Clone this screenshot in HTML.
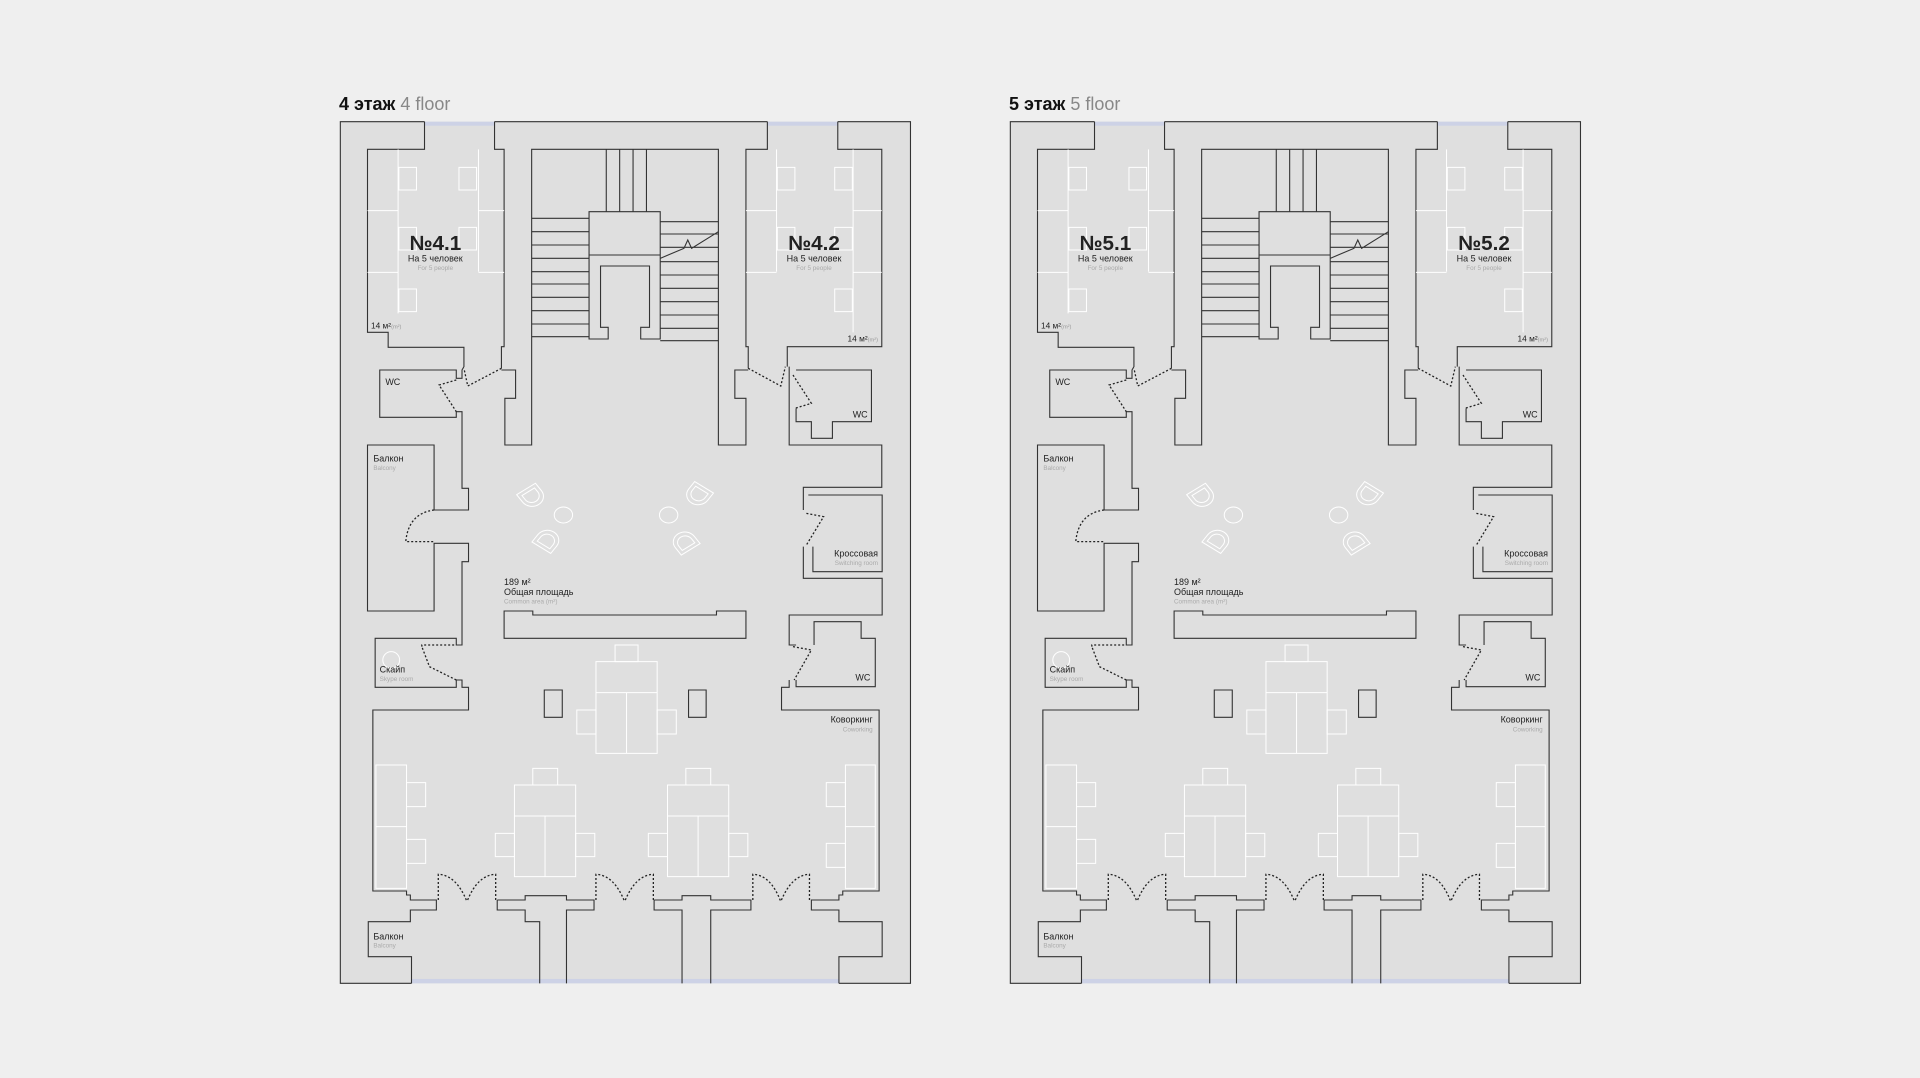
<!DOCTYPE html>
<html><head><meta charset="utf-8"><style>
html,body{margin:0;padding:0;background:#efefef;}
svg{display:block;}
.t{font-family:"Liberation Sans","DejaVu Sans",sans-serif;}
</style></head><body>
<svg width="1920" height="1078" viewBox="0 0 1920 1078" xmlns="http://www.w3.org/2000/svg">
<defs>
<g id="chair"><path d="M-30,-22 L30,-22 L30,5 A30,30 0 0 1 -30,5 Z M-20,-12 L20,-12 L20,3 A20,20 0 0 1 -20,3 Z" fill="none" stroke="#fff" stroke-width="1" vector-effect="non-scaling-stroke"/></g>
<g id="plan">
<g transform="translate(330,80) scale(0.38265,0.33333)">
<rect x="27" y="125" width="1490" height="2585" fill="#dfdfdf"/>
<rect x="247" y="125" width="183" height="12" fill="#cdd2e6"/>
<rect x="1143" y="125" width="184" height="12" fill="#cdd2e6"/>
<rect x="213" y="2697" width="1117" height="13" fill="#cdd2e6"/>
<g fill="none" stroke="#333" stroke-width="1.1">
<path vector-effect="non-scaling-stroke" d="M247,125 L27,125 L27,2710 L213,2710 M1330,2710 L1517,2710 L1517,125 L1327,125 M430,125 L1143,125"/>
<path vector-effect="non-scaling-stroke" d="M247,125 V208 H98 V757 H152 V802 H350 V860 L345,870 V895 H330 V870 H130 V1012 H330 V995 H345 V1225 H362 V1290 H272 V1095 H98 V1593 H272 V1390 H362 V1445 H345 V1695 H330 V1675 H118 V1822 H330 V1800 H345 V1822 H362 V1890 H112 V2433 H200 V2445 H210 V2460 H278 V2490 H210 V2525 H100 V2630 H213 V2710"/>
<path vector-effect="non-scaling-stroke" d="M430,125 V208 H455 V800 H448 V865 M448,870 H485 V955 H457 V1095 H527 V208 H1015 V1095 H1087 V955 H1058 V870 H1093 M1093,865 V800 H1087 V208 H1143 V125"/>
<path vector-effect="non-scaling-stroke" d="M1327,125 V208 H1442 V800 H1195 V860 M1200,860 V1095 H1442 V1222 H1237 V1290 M1237,1400 V1495 H1443 V1605 H1200 V1695 H1218 M1200,1800 V1822 H1180 V1890 H1435 V2433 H1340 V2445 H1330 V2460 H1258 V2490 H1330 V2525 H1443 V2630 H1330 V2710"/>
<path vector-effect="non-scaling-stroke" d="M1218,870 H1415 V1025 H1313 V1075 H1258 V1025 H1218 V985 M1250,1245 H1443 V1475 H1262 V1400"/>
<path vector-effect="non-scaling-stroke" d="M1265,1695 V1625 H1388 V1675 H1425 V1820 H1218 V1800"/>
<path vector-effect="non-scaling-stroke" d="M455,1593 H530 V1605 H1010 V1593 H1087 V1675 H455 Z"/>
<path vector-effect="non-scaling-stroke" d="M437,2460 H510 V2447 H618 V2460 H690 V2490 H618 V2710 M548,2710 V2525 H510 V2490 H437 V2460 M847,2460 H920 V2447 H995 V2460 H1100 V2490 H995 V2710 M920,2710 V2490 H847 V2460"/>
<path vector-effect="non-scaling-stroke" d="M722,208 V395 M757,208 V395 M792,208 V395 M827,208 V395 M677,395 H863 V525 H677 Z M677,525 V777 H727 V742 H707 V558 H835 V742 H812 V777 H863 V525"/>
<path vector-effect="non-scaling-stroke" d="M527,415 H677 M527,455 H677 M527,495 H677 M527,535 H677 M527,575 H677 M527,612 H677 M527,652 H677 M527,692 H677 M527,732 H677 M527,770 H677 M863,425 H1015 M863,462 H1015 M863,502 H1015 M863,545 H1015 M863,585 H1015 M863,625 H1015 M863,665 H1015 M863,705 H1015 M863,745 H1015 M863,782 H1015 M863,535 L925,505 L935,480 L945,505 L1015,455"/>
<rect vector-effect="non-scaling-stroke" x="560" y="1830" width="47" height="82"/>
<rect vector-effect="non-scaling-stroke" x="937" y="1830" width="46" height="82"/>
</g>
<g fill="none" stroke="#fff" stroke-width="1">
<path vector-effect="non-scaling-stroke" d="M178,208 V700 M98,392 H178 M98,577 H178 M388,208 V575 M388,392 H455 M388,577 H455 M1167,208 V575 M1087,392 H1167 M1087,577 H1167 M1367,208 V757 M1367,392 H1442 M1367,577 H1442"/>
<rect vector-effect="non-scaling-stroke" x="180" y="262" width="46" height="68"/><rect vector-effect="non-scaling-stroke" x="180" y="442" width="46" height="68"/><rect vector-effect="non-scaling-stroke" x="180" y="627" width="46" height="68"/>
<rect vector-effect="non-scaling-stroke" x="337" y="262" width="46" height="68"/><rect vector-effect="non-scaling-stroke" x="337" y="442" width="46" height="68"/>
<rect vector-effect="non-scaling-stroke" x="1169" y="262" width="46" height="68"/><rect vector-effect="non-scaling-stroke" x="1169" y="442" width="46" height="68"/>
<rect vector-effect="non-scaling-stroke" x="1319" y="262" width="46" height="68"/><rect vector-effect="non-scaling-stroke" x="1319" y="442" width="46" height="68"/><rect vector-effect="non-scaling-stroke" x="1319" y="627" width="46" height="68"/>
<ellipse vector-effect="non-scaling-stroke" cx="610" cy="1305" rx="24" ry="24"/><ellipse vector-effect="non-scaling-stroke" cx="885" cy="1305" rx="24" ry="24"/>
<rect vector-effect="non-scaling-stroke" x="695" y="1745" width="160" height="275"/><path vector-effect="non-scaling-stroke" d="M695,1838 H855 M775,1838 V2020"/>
<rect vector-effect="non-scaling-stroke" x="745" y="1695" width="60" height="50"/><rect vector-effect="non-scaling-stroke" x="645" y="1890" width="50" height="72"/><rect vector-effect="non-scaling-stroke" x="855" y="1890" width="50" height="72"/>
<rect vector-effect="non-scaling-stroke" x="482" y="2115" width="160" height="275"/><path vector-effect="non-scaling-stroke" d="M482,2208 H642 M562,2208 V2390"/>
<rect vector-effect="non-scaling-stroke" x="530" y="2065" width="65" height="50"/><rect vector-effect="non-scaling-stroke" x="432" y="2260" width="50" height="70"/><rect vector-effect="non-scaling-stroke" x="642" y="2260" width="50" height="70"/>
<rect vector-effect="non-scaling-stroke" x="882" y="2115" width="160" height="275"/><path vector-effect="non-scaling-stroke" d="M882,2208 H1042 M962,2208 V2390"/>
<rect vector-effect="non-scaling-stroke" x="930" y="2065" width="65" height="50"/><rect vector-effect="non-scaling-stroke" x="832" y="2260" width="50" height="70"/><rect vector-effect="non-scaling-stroke" x="1042" y="2260" width="50" height="70"/>
<rect vector-effect="non-scaling-stroke" x="120" y="2055" width="80" height="370"/><path vector-effect="non-scaling-stroke" d="M120,2240 H200"/>
<rect vector-effect="non-scaling-stroke" x="200" y="2108" width="50" height="72"/><rect vector-effect="non-scaling-stroke" x="200" y="2278" width="50" height="72"/>
<rect vector-effect="non-scaling-stroke" x="1347" y="2055" width="78" height="370"/><path vector-effect="non-scaling-stroke" d="M1347,2240 H1425"/>
<rect vector-effect="non-scaling-stroke" x="1297" y="2108" width="50" height="72"/><rect vector-effect="non-scaling-stroke" x="1297" y="2290" width="50" height="72"/>
<ellipse vector-effect="non-scaling-stroke" cx="160" cy="1740" rx="22" ry="25"/>
</g>
<use href="#chair" transform="translate(525,1245) rotate(-35)"/>
<use href="#chair" transform="translate(965,1240) rotate(35)"/>
<use href="#chair" transform="translate(565,1385) rotate(-145)"/>
<use href="#chair" transform="translate(930,1390) rotate(145)"/>
<g fill="none" stroke="#222" stroke-width="1.3" stroke-dasharray="2,2">
<path vector-effect="non-scaling-stroke" d="M283,2460 V2383 Q330,2385 358,2465 M433,2460 V2383 Q385,2385 358,2465 M695,2460 V2383 Q742,2385 770,2465 M845,2460 V2383 Q798,2385 770,2465 M1105,2460 V2383 Q1152,2385 1178,2465 M1253,2460 V2383 Q1206,2385 1178,2465"/>
<path vector-effect="non-scaling-stroke" d="M448,865 L360,918 L350,865 M330,900 L285,915 L330,995 M1093,865 L1178,918 L1190,860 M1210,885 L1258,970 L1215,985"/>
<path vector-effect="non-scaling-stroke" d="M272,1290 Q205,1300 198,1385 H272 M1245,1300 L1290,1310 L1245,1395 M1210,1700 L1258,1710 L1213,1800 M240,1700 V1695 H330 M330,1800 L260,1760 L240,1700"/>
</g>
</g>
</g>
</defs>
<use href="#plan"/>
<use href="#plan" transform="translate(670,0)"/>

<g class="t">
<text x="339" y="110" font-size="18" font-weight="bold" fill="#111">4 этаж <tspan font-weight="normal" fill="#888">4 floor</tspan></text>
<text x="1009" y="110" font-size="18" font-weight="bold" fill="#111">5 этаж <tspan font-weight="normal" fill="#888">5 floor</tspan></text>
</g>
<g class="t" transform="translate(330,80) scale(0.33333)" fill="#222">
<text x="316" y="510" font-size="62" font-weight="bold" text-anchor="middle">№4.1</text>
<text x="316" y="545" font-size="27" text-anchor="middle">На 5 человек</text>
<text x="316" y="570" font-size="19" text-anchor="middle" fill="#aaa">For 5 people</text>
<text x="123" y="745" font-size="25">14 м²<tspan font-size="17" fill="#999">(m²)</tspan></text>
<text x="1452" y="510" font-size="62" font-weight="bold" text-anchor="middle">№4.2</text>
<text x="1452" y="545" font-size="27" text-anchor="middle">На 5 человек</text>
<text x="1452" y="570" font-size="19" text-anchor="middle" fill="#aaa">For 5 people</text>
<text x="1644" y="785" font-size="25" text-anchor="end">14 м²<tspan font-size="17" fill="#999">(m²)</tspan></text>
<text x="166" y="915" font-size="27">WC</text>
<text x="1613" y="1012" font-size="27" text-anchor="end">WC</text>
<text x="130" y="1145" font-size="27">Балкон</text>
<text x="130" y="1170" font-size="19" fill="#aaa">Balcony</text>
<text x="1644" y="1430" font-size="27" text-anchor="end">Кроссовая</text>
<text x="1644" y="1455" font-size="19" text-anchor="end" fill="#aaa">Switching room</text>
<text x="522" y="1515" font-size="27">189 м²</text>
<text x="522" y="1545" font-size="27">Общая площадь</text>
<text x="522" y="1570" font-size="19" fill="#aaa">Common area (m²)</text>
<text x="149" y="1778" font-size="27">Скайп</text>
<text x="149" y="1803" font-size="19" fill="#aaa">Skype room</text>
<text x="1621" y="1802" font-size="27" text-anchor="end">WC</text>
<text x="1628" y="1928" font-size="27" text-anchor="end">Коворкинг</text>
<text x="1628" y="1955" font-size="19" text-anchor="end" fill="#aaa">Coworking</text>
<text x="130" y="2578" font-size="27">Балкон</text>
<text x="130" y="2603" font-size="19" fill="#aaa">Balcony</text>
</g>
<g class="t" transform="translate(1000,80) scale(0.33333)" fill="#222">
<text x="316" y="510" font-size="62" font-weight="bold" text-anchor="middle">№5.1</text>
<text x="316" y="545" font-size="27" text-anchor="middle">На 5 человек</text>
<text x="316" y="570" font-size="19" text-anchor="middle" fill="#aaa">For 5 people</text>
<text x="123" y="745" font-size="25">14 м²<tspan font-size="17" fill="#999">(m²)</tspan></text>
<text x="1452" y="510" font-size="62" font-weight="bold" text-anchor="middle">№5.2</text>
<text x="1452" y="545" font-size="27" text-anchor="middle">На 5 человек</text>
<text x="1452" y="570" font-size="19" text-anchor="middle" fill="#aaa">For 5 people</text>
<text x="1644" y="785" font-size="25" text-anchor="end">14 м²<tspan font-size="17" fill="#999">(m²)</tspan></text>
<text x="166" y="915" font-size="27">WC</text>
<text x="1613" y="1012" font-size="27" text-anchor="end">WC</text>
<text x="130" y="1145" font-size="27">Балкон</text>
<text x="130" y="1170" font-size="19" fill="#aaa">Balcony</text>
<text x="1644" y="1430" font-size="27" text-anchor="end">Кроссовая</text>
<text x="1644" y="1455" font-size="19" text-anchor="end" fill="#aaa">Switching room</text>
<text x="522" y="1515" font-size="27">189 м²</text>
<text x="522" y="1545" font-size="27">Общая площадь</text>
<text x="522" y="1570" font-size="19" fill="#aaa">Common area (m²)</text>
<text x="149" y="1778" font-size="27">Скайп</text>
<text x="149" y="1803" font-size="19" fill="#aaa">Skype room</text>
<text x="1621" y="1802" font-size="27" text-anchor="end">WC</text>
<text x="1628" y="1928" font-size="27" text-anchor="end">Коворкинг</text>
<text x="1628" y="1955" font-size="19" text-anchor="end" fill="#aaa">Coworking</text>
<text x="130" y="2578" font-size="27">Балкон</text>
<text x="130" y="2603" font-size="19" fill="#aaa">Balcony</text>
</g>
</svg>
</body></html>
